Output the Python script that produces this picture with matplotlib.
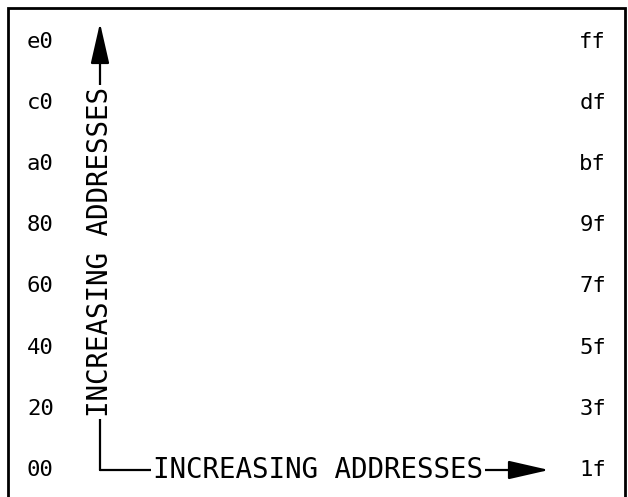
import matplotlib
matplotlib.use("Agg")
import matplotlib.pyplot as plt

left_labels = ["00", "20", "40", "60", "80", "a0", "c0", "e0"]
right_labels = ["1f", "3f", "5f", "7f", "9f", "bf", "df", "ff"]
axis_text = "INCREASING ADDRESSES"

W, H = 628, 497
fig = plt.figure(figsize=(W / 100, H / 100), dpi=100)
ax = fig.add_axes([0, 0, 1, 1])
ax.set_xlim(0, W)
# row index i sits at pixel y = 470 - 61.2*i
row0, step = 470.0, 61.2
ax.set_ylim((row0 - H) / step, row0 / step)
ax.axis("off")

def py(p):
    return (row0 - p) / step

font = "DejaVu Sans Mono"

# frame (left, top, right; bottom is off the picture)
ax.plot([8, 8, 625, 625], [py(H + 5), py(8), py(8), py(H + 5)],
        color="black", lw=2.0, solid_joinstyle="miter", clip_on=False)

for i, (l, r) in enumerate(zip(left_labels, right_labels)):
    ax.text(27, i, l, ha="left", va="center", fontsize=16, family=font)
    ax.text(606, i, r, ha="right", va="center", fontsize=16, family=font)

xc = 100
# corner line and arrows
ax.annotate("", xy=(xc, py(23)), xytext=(xc, 0),
            arrowprops=dict(arrowstyle="-|>,head_length=2.1,head_width=0.48",
                            mutation_scale=12, lw=1.6, color="black",
                            shrinkA=0, shrinkB=0))
ax.annotate("", xy=(549, 0), xytext=(xc, 0),
            arrowprops=dict(arrowstyle="-|>,head_length=2.1,head_width=0.48",
                            mutation_scale=12, lw=1.6, color="black",
                            shrinkA=0, shrinkB=0))

bb = dict(facecolor="white", edgecolor="none", pad=1.5)
ax.text(xc, py(252), axis_text, rotation=90, ha="center", va="center",
        fontsize=19.8, family=font, bbox=bb)
ax.text(318, 0, axis_text, ha="center", va="center",
        fontsize=19.8, family=font, bbox=bb)

fig.savefig("out.png", dpi=100)
